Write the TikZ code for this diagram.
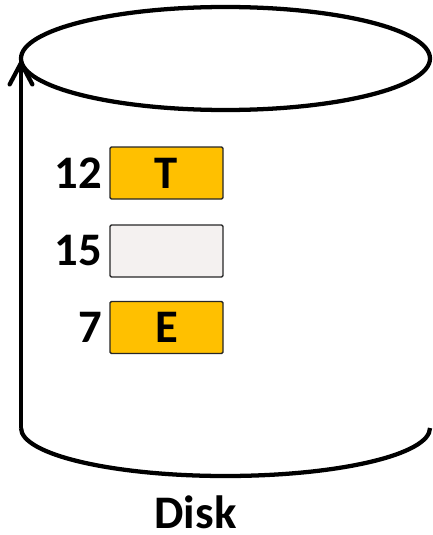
\documentclass[tikz,border=0pt]{standalone}
\usepackage{fontspec}
\setmainfont{Carlito}
\usetikzlibrary{arrows.meta,positioning}

\definecolor{slotfill}{HTML}{FFC000}
\definecolor{emptyfill}{HTML}{F4F1F0}

\tikzset{
  slot/.style={draw=black!85,line width=1pt,rounded corners=1pt,
    minimum width=84.75pt,minimum height=39pt,inner sep=0pt,
    font=\fontsize{35}{40}\selectfont\bfseries},
  addr/.style={inner sep=0pt,font=\fontsize{35}{40}\selectfont\bfseries},
}

\begin{document}
\begin{tikzpicture}
  [x=0.75pt,y=-0.75pt,line width=3.2pt]
  \useasboundingbox (0,0) rectangle (432,535);

  % disk outline
  \coordinate (lid west) at (21,58.5);
  \coordinate (base west) at (21,428);
  \draw (225.5,58.5) ellipse [x radius=204.5,y radius=51.5];
  \draw (base west) arc [start angle=180,end angle=0,x radius=204.5,y radius=48];
  \draw[-{Straight Barb[length=16pt,width=17pt,line cap=round]}] (base west) -- (lid west);

  % stored blocks
  \node[slot,fill=slotfill] (t) at (166.5,173) {T};
  \node[slot,fill=emptyfill] (blank) at (166.5,251) {};
  \node[slot,fill=slotfill] (e) at (166.5,327.5) {E};

  \node[addr,left=4pt of t] (at) {12};
  \node[addr,left=4pt of blank] (ablank) {15};
  \node[addr,left=4pt of e] (ae) {7};

  \node[addr,anchor=base] (disk) at (195.5,528) {Disk};
\end{tikzpicture}
\end{document}
